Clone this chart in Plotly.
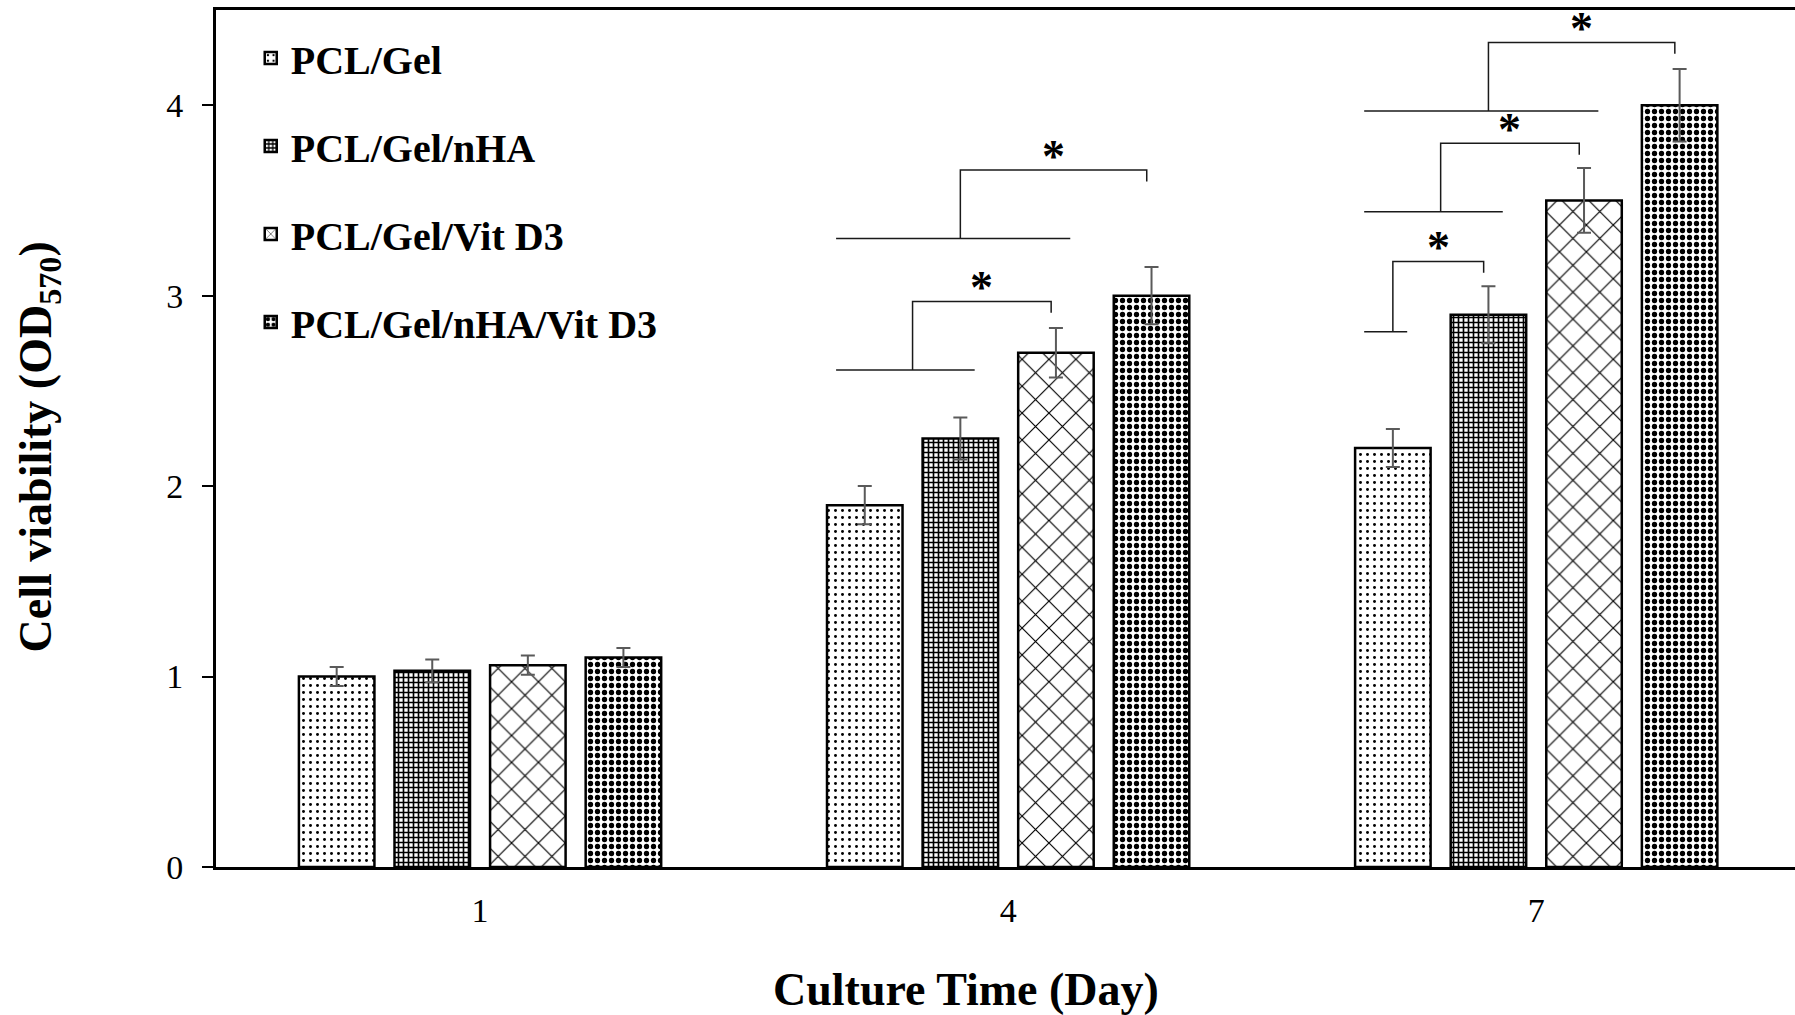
import plotly.graph_objects as go

# ---------------- data ----------------
days = ["1", "4", "7"]
series_names = ["PCL/Gel", "PCL/Gel/nHA", "PCL/Gel/Vit D3", "PCL/Gel/nHA/Vit D3"]
pcl_gel = [1.00, 1.90, 2.20]
pcl_gel_nha = [1.03, 2.25, 2.90]
pcl_gel_vit = [1.06, 2.70, 3.50]
pcl_gel_nha_vit = [1.10, 3.00, 4.00]
err_pcl_gel = [0.05, 0.10, 0.10]
err_pcl_gel_nha = [0.06, 0.11, 0.15]
err_pcl_gel_vit = [0.05, 0.13, 0.17]
err_pcl_gel_nha_vit = [0.05, 0.15, 0.19]
y_ticks = [0, 1, 2, 3, 4]
x_title = "Culture Time (Day)"
y_title = "Cell viability (OD<sub>570</sub>)"

# significance brackets: day index, compared group (bars 0..last), target bar, base level, top level
sig_day = [1, 1, 2, 2, 2]
sig_group_last = [1, 2, 0, 1, 2]
sig_target = [2, 3, 1, 2, 3]
sig_base = [2.61, 3.30, 2.81, 3.44, 3.97]
sig_top = [2.97, 3.66, 3.18, 3.80, 4.33]
sig_label = ["*", "*", "*", "*", "*"]

values = [pcl_gel, pcl_gel_nha, pcl_gel_vit, pcl_gel_nha_vit]
errors = [err_pcl_gel, err_pcl_gel_nha, err_pcl_gel_vit, err_pcl_gel_nha_vit]

# ---------------- styles ----------------
FONT = "Liberation Serif"
BARGAP = 0.276
BARGROUPGAP = 0.21
patterns = [
    dict(shape=".", size=7, solidity=0.14, fgcolor="black", bgcolor="white", fillmode="replace"),
    dict(shape="+", size=5, solidity=0.55, fgcolor="black", bgcolor="white", fillmode="replace"),
    dict(shape="x", size=19, solidity=0.12, fgcolor="black", bgcolor="white", fillmode="replace"),
    dict(shape=".", size=7, solidity=0.45, fgcolor="black", bgcolor="white", fillmode="replace"),
]

fig = go.Figure()
for name, vals, errs, pat in zip(series_names, values, errors, patterns):
    fig.add_trace(go.Bar(
        name=name, x=days, y=vals,
        legendgroup=name,
        marker=dict(color="white", pattern=pat, line=dict(color="black", width=2.5)),
        error_y=dict(type="data", array=errs, visible=True, color="#5a5a5a", thickness=2, width=7),
    ))

# bracket geometry derived from bar slots
n_series = len(series_names)
pitch = (1 - BARGAP) / n_series


def bar_center(day_idx, k):
    return day_idx + (k - (n_series - 1) / 2) * pitch


drop = 0.06
shapes = []
annotations = []
for d, last, tgt, base, top, lab in zip(sig_day, sig_group_last, sig_target, sig_base, sig_top, sig_label):
    first_c = bar_center(d, 0)
    last_c = bar_center(d, last)
    x_left = first_c - 0.3 * pitch
    x_right = last_c + 0.15 * pitch
    x_mid = (first_c + last_c) / 2
    x_tgt = bar_center(d, tgt) - 0.05 * pitch
    line = dict(color="#1a1a1a", width=1.5)
    shapes.append(dict(type="line", xref="x", yref="y", x0=x_left, x1=x_right, y0=base, y1=base, line=line))
    shapes.append(dict(type="path", xref="x", yref="y",
                       path=f"M {x_mid},{base} L {x_mid},{top} L {x_tgt},{top} L {x_tgt},{top - drop}",
                       line=line))
    annotations.append(dict(x=(x_mid + x_tgt) / 2, y=top, xref="x", yref="y", text=lab,
                            showarrow=False, yanchor="bottom", yshift=-14,
                            font=dict(family=FONT, size=46, color="black", weight="bold")))

# axis titles (placed as in the reference)
annotations.append(dict(x=0.475, y=-0.1435, xref="paper", yref="paper", text=x_title,
                        showarrow=False, xanchor="center", yanchor="middle",
                        font=dict(family=FONT, size=46, color="black", weight="bold")))
annotations.append(dict(x=-0.1115, y=0.4907, xref="paper", yref="paper", text=y_title,
                        showarrow=False, xanchor="center", yanchor="middle", textangle=-90,
                        font=dict(family=FONT, size=46, color="black", weight="bold")))

fig.update_layout(
    width=1795, height=1015,
    margin=dict(l=216, r=0, t=10, b=148, pad=0),
    paper_bgcolor="white", plot_bgcolor="white",
    barmode="group", bargap=BARGAP, bargroupgap=BARGROUPGAP,
    font=dict(family=FONT, color="black"),
    showlegend=True,
    legend=dict(x=0.022, y=0.982, xanchor="left", yanchor="top",
                bgcolor="rgba(0,0,0,0)", traceorder="grouped", tracegroupgap=33,
                font=dict(family=FONT, size=40, color="black", weight="bold")),
    shapes=shapes,
    annotations=annotations,
)

fig.update_xaxes(
    type="category", range=[-0.5, 2.49],
    showline=True, linecolor="black", linewidth=2.5, mirror=True,
    ticks="", ticklabelstandoff=11,
    tickfont=dict(family=FONT, size=34, color="black"),
    showgrid=False, zeroline=False,
)
fig.update_yaxes(
    range=[0, 4.5], tickvals=y_ticks,
    showline=True, linecolor="black", linewidth=3, mirror=False,
    ticks="outside", ticklen=11, tickwidth=2, tickcolor="black",
    ticklabelstandoff=12,
    tickfont=dict(family=FONT, size=34, color="black"),
    showgrid=False, zeroline=False,
)

fig.write_html("out.html")
